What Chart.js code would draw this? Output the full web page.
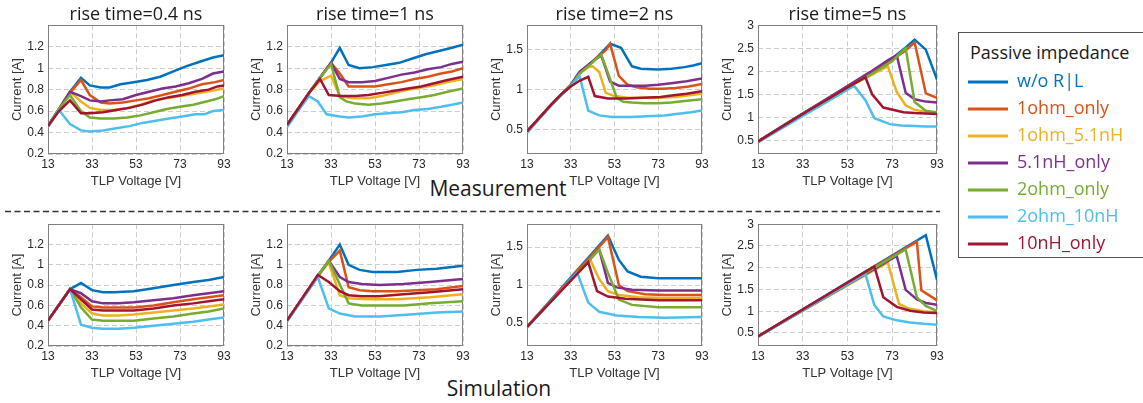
<!DOCTYPE html>
<html>
<head>
<meta charset="utf-8">
<title>TLP current vs. voltage</title>
<script src="https://cdn.jsdelivr.net/npm/chart.js@4.4.1/dist/chart.umd.min.js"></script>
<style>
  html, body { margin: 0; padding: 0; background: #fff; }
  body { width: 1143px; height: 403px; overflow: hidden; position: relative; }
  .panel { position: absolute; }
  .txt { position: absolute; font-family: 'Open Sans', sans-serif; color: #1a1a1a; white-space: nowrap; }
  #legendBox { position: absolute; left: 958px; top: 32px; width: 200px; height: 226px;
               box-sizing: border-box; border: 1.5px solid #555; }
</style>
</head>
<body>
<svg style="position:absolute;left:0;top:0" width="1143" height="403">
  <line x1="5" y1="211.5" x2="940" y2="211.5" stroke="#333" stroke-width="1.5" stroke-dasharray="6 3.5"/>
</svg>
<div class="txt" style="left:398px;top:178px;width:200px;text-align:center;font-size:21px;line-height:21px">Measurement</div>
<div class="txt" style="left:399px;top:378px;width:200px;text-align:center;font-size:21px;line-height:21px">Simulation</div>
<div id="legendBox"></div>
<div class="txt" style="left:970px;top:41px;font-size:18px;line-height:22px">Passive impedance</div>

<script>
// ============================================
// data
// ============================================

const SERIES = ['w/o R|L', '1ohm_only', '1ohm_5.1nH', '5.1nH_only', '2ohm_only', '2ohm_10nH', '10nH_only'];
const COLORS = ['#0072BD', '#D95319', '#EDB120', '#7E2F8E', '#77AC30', '#4DBEEE', '#A2142F'];
const TITLES = ['rise time=0.4 ns', 'rise time=1 ns', 'rise time=2 ns', 'rise time=5 ns'];

const X_TICKS = [13, 33, 53, 73, 93];
const Y_TICKS_SHORT = [0.2, 0.4, 0.6, 0.8, 1, 1.2];
const Y_TICKS_MID = [0.5, 1, 1.5];
const Y_TICKS_LONG = [0.5, 1, 1.5, 2, 2.5, 3];

// [TLP voltage (V), current (A)] per series, same order as SERIES
const MEAS_04NS = [
  [[13,0.46],[18,0.62],[23,0.78],[28,0.91],[32,0.84],[37,0.82],[41,0.82],[46,0.85],[52,0.87],[58,0.89],[64,0.92],[70,0.97],[76,1.02],[82,1.06],[88,1.10],[93,1.12]],
  [[13,0.46],[18,0.62],[23,0.77],[28,0.89],[32,0.75],[37,0.68],[41,0.67],[47,0.68],[53,0.70],[59,0.72],[65,0.75],[71,0.78],[77,0.81],[83,0.85],[89,0.87],[93,0.89]],
  [[13,0.46],[18,0.62],[23,0.78],[28,0.69],[32,0.63],[37,0.61],[43,0.61],[49,0.63],[55,0.66],[61,0.70],[67,0.72],[73,0.74],[79,0.76],[85,0.78],[93,0.81]],
  [[13,0.46],[18,0.62],[23,0.78],[28,0.74],[32,0.70],[37,0.69],[41,0.70],[47,0.71],[53,0.75],[59,0.78],[65,0.81],[71,0.83],[77,0.86],[83,0.90],[88,0.95],[93,0.97]],
  [[13,0.46],[18,0.62],[23,0.75],[28,0.60],[32,0.54],[37,0.53],[43,0.53],[49,0.54],[55,0.56],[61,0.59],[67,0.62],[73,0.64],[79,0.66],[85,0.69],[89,0.71],[93,0.74]],
  [[13,0.45],[18,0.61],[23,0.48],[28,0.42],[32,0.41],[38,0.42],[44,0.44],[50,0.46],[56,0.49],[62,0.51],[68,0.53],[74,0.55],[80,0.57],[84,0.57],[88,0.60],[93,0.61]],
  [[13,0.46],[18,0.60],[23,0.70],[28,0.58],[32,0.58],[38,0.59],[44,0.61],[50,0.63],[56,0.66],[62,0.70],[68,0.73],[74,0.75],[80,0.78],[86,0.80],[90,0.83],[93,0.84]]
];

const MEAS_1NS = [
  [[13,0.47],[18,0.62],[23,0.77],[28,0.91],[33,1.05],[37,1.19],[41,1.03],[46,1.00],[52,1.01],[58,1.03],[64,1.05],[70,1.09],[76,1.13],[82,1.16],[88,1.19],[93,1.22]],
  [[13,0.47],[18,0.62],[23,0.77],[28,0.91],[33,1.05],[37,0.95],[41,0.83],[47,0.83],[53,0.83],[59,0.85],[65,0.87],[71,0.90],[77,0.92],[83,0.95],[88,0.97],[93,1.00]],
  [[13,0.47],[18,0.62],[23,0.77],[28,0.88],[33,0.93],[37,0.74],[43,0.72],[50,0.72],[56,0.74],[62,0.77],[68,0.80],[74,0.82],[80,0.84],[86,0.87],[93,0.90]],
  [[13,0.47],[18,0.62],[23,0.77],[28,0.91],[33,1.05],[37,0.90],[41,0.87],[47,0.87],[53,0.88],[59,0.91],[65,0.94],[71,0.96],[77,0.99],[83,1.01],[88,1.04],[93,1.06]],
  [[13,0.47],[18,0.62],[23,0.77],[28,0.91],[33,1.04],[37,0.73],[40,0.69],[44,0.67],[50,0.66],[56,0.67],[62,0.69],[68,0.71],[74,0.73],[80,0.75],[86,0.78],[93,0.81]],
  [[13,0.45],[18,0.60],[23,0.74],[27,0.69],[31,0.57],[37,0.55],[41,0.54],[47,0.55],[53,0.57],[59,0.58],[65,0.59],[71,0.61],[77,0.62],[83,0.64],[88,0.66],[93,0.68]],
  [[13,0.47],[18,0.62],[23,0.77],[28,0.90],[32,0.75],[38,0.74],[44,0.74],[50,0.75],[56,0.77],[62,0.79],[68,0.81],[74,0.83],[80,0.86],[86,0.89],[93,0.92]]
];

const MEAS_2NS = [
  [[13,0.48],[17,0.60],[21,0.72],[25,0.84],[29,0.95],[33,1.05],[37,1.20],[41,1.30],[45,1.40],[51,1.57],[56,1.52],[61,1.29],[65,1.26],[73,1.25],[79,1.26],[85,1.28],[89,1.30],[93,1.33]],
  [[13,0.48],[17,0.60],[21,0.72],[25,0.84],[29,0.95],[33,1.05],[37,1.20],[41,1.30],[45,1.40],[49,1.49],[51,1.57],[55,1.17],[59,1.06],[63,1.03],[69,1.01],[75,1.01],[81,1.02],[87,1.04],[93,1.07]],
  [[13,0.48],[17,0.60],[21,0.72],[25,0.84],[29,0.95],[33,1.05],[37,1.20],[41,1.28],[43,1.29],[46,1.22],[49,0.96],[53,0.92],[59,0.90],[65,0.90],[73,0.90],[81,0.91],[87,0.93],[93,0.95]],
  [[13,0.48],[17,0.60],[21,0.72],[25,0.84],[29,0.95],[33,1.06],[37,1.22],[41,1.31],[45,1.39],[47,1.42],[51,1.10],[55,1.05],[61,1.05],[67,1.05],[73,1.06],[79,1.08],[85,1.10],[89,1.12],[93,1.14]],
  [[13,0.48],[17,0.60],[21,0.72],[25,0.84],[29,0.95],[33,1.05],[37,1.20],[41,1.29],[45,1.39],[47,1.43],[51,1.13],[54,0.90],[57,0.85],[61,0.84],[67,0.83],[73,0.83],[79,0.84],[85,0.86],[93,0.88]],
  [[13,0.46],[17,0.59],[21,0.71],[25,0.83],[29,0.94],[33,1.04],[37,1.17],[41,0.74],[46,0.68],[52,0.66],[60,0.66],[68,0.67],[76,0.68],[82,0.70],[88,0.72],[93,0.74]],
  [[13,0.48],[17,0.60],[21,0.72],[25,0.84],[29,0.95],[33,1.04],[37,1.11],[41,1.16],[44,0.92],[50,0.89],[58,0.89],[66,0.90],[74,0.91],[80,0.93],[86,0.95],[93,0.98]]
];

const MEAS_5NS = [
  [[13,0.47],[23,0.78],[33,1.08],[43,1.37],[53,1.67],[63,1.96],[73,2.28],[79,2.52],[83,2.69],[88,2.47],[93,1.82]],
  [[13,0.47],[23,0.77],[33,1.07],[43,1.36],[53,1.65],[63,1.93],[73,2.25],[79,2.45],[83,2.63],[88,1.52],[93,1.42]],
  [[13,0.47],[23,0.77],[33,1.07],[43,1.36],[53,1.65],[63,1.90],[71,2.11],[75,1.55],[79,1.26],[83,1.16],[88,1.12],[93,1.11]],
  [[13,0.47],[23,0.78],[33,1.08],[43,1.38],[53,1.68],[63,1.98],[71,2.24],[75,2.35],[79,1.53],[83,1.39],[88,1.34],[93,1.32]],
  [[13,0.47],[23,0.77],[33,1.07],[43,1.36],[53,1.65],[63,1.92],[73,2.22],[75,2.32],[79,2.50],[83,1.33],[88,1.14],[93,1.10]],
  [[13,0.45],[23,0.74],[33,1.03],[43,1.31],[53,1.60],[56,1.68],[61,1.37],[65,0.98],[72,0.85],[77,0.82],[83,0.81],[88,0.80],[93,0.80]],
  [[13,0.47],[23,0.77],[33,1.07],[43,1.36],[53,1.65],[61,1.87],[64,1.50],[69,1.21],[78,1.11],[83,1.09],[88,1.08],[93,1.07]]
];

const SIM_04NS = [
  [[13,0.45],[23,0.76],[28,0.82],[33,0.75],[38,0.73],[43,0.73],[52,0.74],[61,0.77],[70,0.80],[79,0.83],[86,0.85],[93,0.88]],
  [[13,0.45],[23,0.76],[28,0.68],[33,0.59],[38,0.58],[45,0.58],[52,0.58],[61,0.60],[70,0.63],[79,0.66],[86,0.68],[93,0.70]],
  [[13,0.45],[23,0.76],[28,0.62],[33,0.52],[38,0.50],[45,0.50],[52,0.51],[61,0.53],[70,0.55],[79,0.57],[86,0.59],[93,0.61]],
  [[13,0.45],[23,0.76],[28,0.72],[33,0.64],[38,0.62],[45,0.62],[52,0.63],[61,0.65],[70,0.67],[79,0.70],[86,0.72],[93,0.74]],
  [[13,0.45],[23,0.76],[28,0.58],[33,0.46],[38,0.45],[45,0.45],[52,0.45],[61,0.47],[70,0.49],[79,0.52],[86,0.54],[93,0.57]],
  [[13,0.45],[23,0.76],[28,0.41],[33,0.38],[38,0.37],[45,0.37],[52,0.38],[61,0.40],[70,0.42],[79,0.44],[86,0.46],[93,0.48]],
  [[13,0.45],[23,0.76],[28,0.66],[33,0.56],[38,0.55],[45,0.55],[52,0.55],[61,0.57],[70,0.60],[79,0.62],[86,0.64],[93,0.66]]
];

const SIM_1NS = [
  [[13,0.45],[27,0.89],[32,1.04],[37,1.20],[41,1.00],[46,0.95],[52,0.93],[63,0.93],[72,0.95],[81,0.96],[93,0.99]],
  [[13,0.45],[27,0.89],[32,1.03],[37,1.14],[41,0.78],[46,0.75],[52,0.74],[63,0.74],[72,0.75],[81,0.76],[93,0.79]],
  [[13,0.45],[27,0.89],[32,1.02],[37,0.70],[41,0.67],[50,0.66],[63,0.66],[78,0.68],[93,0.71]],
  [[13,0.45],[27,0.89],[32,1.04],[37,0.88],[41,0.83],[47,0.81],[55,0.80],[66,0.81],[78,0.83],[93,0.86]],
  [[13,0.45],[27,0.89],[32,1.04],[41,0.62],[47,0.60],[55,0.60],[66,0.60],[78,0.62],[93,0.64]],
  [[13,0.44],[27,0.88],[32,0.57],[37,0.52],[44,0.49],[55,0.49],[69,0.51],[81,0.53],[93,0.54]],
  [[13,0.45],[27,0.90],[32,0.83],[37,0.74],[41,0.70],[47,0.69],[55,0.69],[66,0.71],[78,0.73],[93,0.76]]
];

const SIM_2NS = [
  [[13,0.45],[50,1.65],[55,1.33],[59,1.18],[65,1.11],[73,1.09],[83,1.09],[93,1.09]],
  [[13,0.45],[50,1.63],[55,1.00],[59,0.92],[67,0.88],[76,0.87],[93,0.87]],
  [[13,0.45],[42,1.33],[46,1.08],[50,0.92],[55,0.87],[64,0.84],[76,0.83],[93,0.83]],
  [[13,0.45],[46,1.47],[50,1.03],[54,0.97],[61,0.94],[73,0.93],[93,0.93]],
  [[13,0.45],[46,1.47],[50,1.16],[55,0.81],[61,0.74],[73,0.71],[93,0.71]],
  [[13,0.44],[36,1.16],[41,0.77],[46,0.65],[54,0.60],[64,0.58],[76,0.57],[93,0.58]],
  [[13,0.45],[41,1.30],[45,0.92],[50,0.85],[58,0.82],[73,0.80],[93,0.80]]
];

const SIM_5NS = [
  [[13,0.42],[88,2.75],[93,1.72]],
  [[13,0.42],[84,2.60],[86,1.48],[93,1.25]],
  [[13,0.42],[71,2.12],[76,1.17],[80,1.07],[87,1.00],[93,0.97]],
  [[13,0.42],[75,2.27],[79,1.49],[84,1.27],[88,1.19],[93,1.15]],
  [[13,0.42],[79,2.42],[84,1.32],[88,1.12],[93,1.00]],
  [[13,0.41],[61,1.86],[65,1.14],[69,0.88],[75,0.79],[81,0.74],[87,0.71],[93,0.69]],
  [[13,0.42],[65,2.03],[69,1.32],[75,1.10],[81,1.01],[87,0.97],[93,0.96]]
];

// ============================================
// layout
// ============================================

Chart.defaults.font.family = "'Liberation Sans', Arial, sans-serif";
Chart.defaults.font.size = 12;
Chart.defaults.color = '#262626';

const COL_LEFT = [48, 287, 527, 758];
const COL_RIGHT = [224, 463, 702, 937];
const Y_W = 38;     // width kept for the y axis
const X_H = 35;     // height kept for the x axis
const PAD_R = 12;
const GRID = '#cdcdcd';

const PANELS = [
  {data: MEAS_04NS, row: 0, col: 0, yMax: 1.4, yTicks: Y_TICKS_SHORT},
  {data: MEAS_1NS,  row: 0, col: 1, yMax: 1.4, yTicks: Y_TICKS_SHORT},
  {data: MEAS_2NS,  row: 0, col: 2, yMax: 1.8, yTicks: Y_TICKS_MID},
  {data: MEAS_5NS,  row: 0, col: 3, yMax: 3,   yTicks: Y_TICKS_LONG},
  {data: SIM_04NS,  row: 1, col: 0, yMax: 1.4, yTicks: Y_TICKS_SHORT},
  {data: SIM_1NS,   row: 1, col: 1, yMax: 1.4, yTicks: Y_TICKS_SHORT},
  {data: SIM_2NS,   row: 1, col: 2, yMax: 1.8, yTicks: Y_TICKS_MID},
  {data: SIM_5NS,   row: 1, col: 3, yMax: 3,   yTicks: Y_TICKS_LONG}
];

// box round the plot area (MATLAB style)
const boxPlugin = {
  id: 'plotBox',
  beforeDatasetsDraw(chart) {
    const {ctx, chartArea: a} = chart;
    ctx.save();
    ctx.strokeStyle = '#808080';
    ctx.lineWidth = 1;
    ctx.strokeRect(Math.round(a.left) + 0.5, Math.round(a.top) + 0.5,
                   Math.round(a.width) - 1, Math.round(a.height) - 1);
    ctx.restore();
  }
};

function addCanvas(left, top, width, height) {
  const div = document.createElement('div');
  div.className = 'panel';
  div.style.left = left + 'px';
  div.style.top = top + 'px';
  div.style.width = width + 'px';
  div.style.height = height + 'px';
  const canvas = document.createElement('canvas');
  div.appendChild(canvas);
  document.body.appendChild(div);
  return canvas;
}

function makePanel(p) {
  const top = p.row === 0 ? 0 : 213;
  const height = p.row === 0 ? 189 : 168;
  const left = COL_LEFT[p.col] - Y_W;
  const width = COL_RIGHT[p.col] - COL_LEFT[p.col] + Y_W + PAD_R;
  const canvas = addCanvas(left, top, width, height);

  new Chart(canvas, {
    type: 'line',
    data: {
      datasets: p.data.map((pts, i) => ({
        label: SERIES[i],
        data: pts.map(([x, y]) => ({x, y})),
        borderColor: COLORS[i],
        backgroundColor: COLORS[i],
        borderWidth: 2.5,
        pointRadius: 0,
        tension: 0,
        order: SERIES.length - i
      }))
    },
    options: {
      animation: false,
      responsive: true,
      maintainAspectRatio: false,
      devicePixelRatio: 1,
      layout: {padding: {top: p.row === 0 ? 0 : 8, right: PAD_R, left: 0, bottom: 0}},
      plugins: {
        legend: {display: false},
        tooltip: {enabled: false},
        title: {
          display: p.row === 0,
          text: TITLES[p.col],
          fullSize: false,
          color: '#1a1a1a',
          font: {family: "'Open Sans', sans-serif", size: 18, weight: 'normal', lineHeight: 1.1},
          padding: {top: 4.5, bottom: 1}
        }
      },
      scales: {
        x: {
          type: 'linear',
          min: 13,
          max: 93,
          afterBuildTicks: s => { s.ticks = X_TICKS.map(v => ({value: v})); },
          afterFit: s => { s.height = X_H; },
          ticks: {padding: 3, maxRotation: 0, autoSkip: false, callback: v => String(v)},
          grid: {color: GRID, lineWidth: 1, drawTicks: false},
          border: {display: false, dash: [5, 3]},
          title: {display: true, text: 'TLP Voltage [V]', color: '#333', font: {size: 13}, padding: 0}
        },
        y: {
          type: 'linear',
          min: 0.2,
          max: p.yMax,
          afterBuildTicks: s => { s.ticks = p.yTicks.map(v => ({value: v})); },
          afterFit: s => { s.width = Y_W; },
          ticks: {padding: 4, autoSkip: false, callback: v => String(v)},
          grid: {color: GRID, lineWidth: 1, drawTicks: false},
          border: {display: false, dash: [5, 3]},
          title: {display: true, text: 'Current [A]', color: '#333', font: {size: 13}, padding: 0}
        }
      }
    },
    plugins: [boxPlugin]
  });
}

function makeLegend() {
  // wide canvas so the legend column is not cut; the page clips what lies past 1143 px
  const canvas = addCanvas(958, 32, 440, 260);
  new Chart(canvas, {
    type: 'line',
    data: {
      datasets: SERIES.map((name, i) => ({label: name, data: [], borderColor: COLORS[i], borderWidth: 3}))
    },
    options: {
      animation: false,
      responsive: true,
      maintainAspectRatio: false,
      devicePixelRatio: 1,
      layout: {padding: {left: 1, top: 32}},
      scales: {x: {display: false}, y: {display: false}},
      plugins: {
        tooltip: {enabled: false},
        legend: {
          display: true,
          position: 'left',
          align: 'start',
          maxWidth: 220,
          labels: {
            usePointStyle: true,
            pointStyleWidth: 40,
            padding: 9,
            font: {family: "'Open Sans', sans-serif", size: 18},
            generateLabels: () => SERIES.map((name, i) => ({
              text: name,
              strokeStyle: COLORS[i],
              fillStyle: COLORS[i],
              fontColor: COLORS[i],
              lineWidth: 3,
              pointStyle: 'line',
              hidden: false,
              datasetIndex: i
            }))
          }
        }
      }
    }
  });
}

PANELS.forEach(makePanel);
makeLegend();
</script>
</body>
</html>
